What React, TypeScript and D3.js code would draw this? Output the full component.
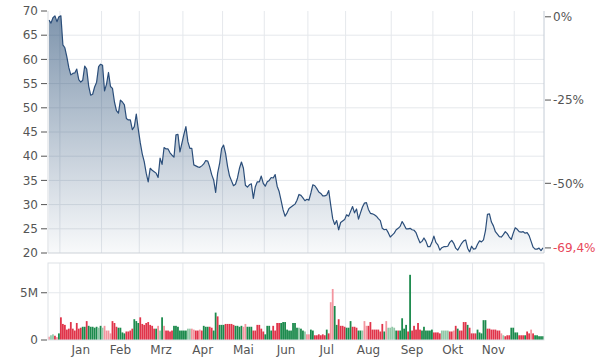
import React from "react";
import * as d3 from "d3";

// ---- data ----
const prices: number[] = [
  68.1, 67.5, 68.6, 69.0, 67.8, 68.8, 69.0, 63.0, 62.4, 60.5,
  58.3, 56.8, 57.1, 57.2, 58.0, 55.8, 55.3, 55.7, 58.6, 58.0,
  54.5, 52.6, 52.8, 54.3, 55.3, 58.5, 59.0, 58.8, 53.5, 54.9,
  57.3, 54.4, 54.0, 51.2, 49.4, 48.9, 51.6, 51.2, 50.6, 47.8,
  47.5, 47.5, 45.5, 46.1, 48.7, 45.6, 42.8, 40.5, 38.9, 36.5,
  34.7, 37.5, 37.1, 36.8, 36.5, 35.6, 39.6, 38.3, 41.8, 41.5,
  41.5, 40.7, 40.2, 39.8, 44.4, 44.5, 40.9, 42.7, 44.5, 46.1,
  43.0, 41.6, 41.6, 38.2, 38.0, 37.8, 37.7, 38.0, 38.4, 39.1,
  39.0, 37.8, 36.2, 35.1, 32.5, 36.5, 38.5, 41.6, 42.3, 40.6,
  37.9, 35.9, 34.9, 33.9, 34.2, 35.5, 37.5, 38.8, 37.5, 34.0,
  33.6, 34.1, 34.3, 31.3, 33.7, 34.7, 34.7, 35.9, 34.4, 33.8,
  34.7, 35.0, 35.6, 35.5, 36.2, 33.8, 32.7, 30.8, 28.9, 27.6,
  28.3, 29.2, 29.5, 29.8, 30.1, 30.9, 32.1, 31.9, 31.4, 30.8,
  31.1, 30.9, 32.4, 34.1, 33.9, 33.3, 32.6, 32.3, 31.8, 31.8,
  32.0, 32.9, 29.9, 27.1, 25.9, 26.7, 24.8, 26.3, 26.6, 26.9,
  27.9, 27.6, 28.6, 29.6, 28.3, 29.1, 27.0, 28.3, 29.5, 30.3,
  30.4, 29.0, 28.2, 28.1, 27.9, 27.6, 27.1, 26.7, 25.1, 24.8,
  24.9, 24.2, 23.3, 23.7, 24.1, 24.8, 25.1, 25.5, 26.5, 25.8,
  25.0, 25.0, 25.1, 24.8, 24.7, 24.2, 23.1, 22.1, 22.4, 23.1,
  22.4, 21.3, 21.3, 22.2, 23.5, 22.2, 21.7, 20.6, 21.1, 21.3,
  21.3, 21.4, 22.2, 22.6, 22.0, 21.0, 20.6, 21.3, 22.0, 22.5,
  22.7, 21.0, 20.2, 21.4, 20.8, 20.9, 21.8, 22.5, 22.3, 22.7,
  24.6, 28.0, 28.1, 26.4, 25.6, 24.4, 23.9, 23.4, 23.3, 23.8,
  24.4, 24.0, 23.3, 22.8, 24.1, 25.2, 24.9, 24.4, 24.3, 24.4,
  24.1, 24.2, 23.6, 22.4, 21.2, 20.8, 20.8, 21.0, 20.5, 21.05,
];

// volume in millions
const volumes: number[] = [
  0.35, 0.5, 0.6, 0.45, 0.3, 0.7, 2.4, 1.7, 1.6, 1.1,
  1.2, 1.9, 1.2, 1.0, 1.8, 1.2, 1.3, 1.4, 1.4, 2.0,
  1.5, 1.4, 1.4, 1.3, 1.4, 1.3, 1.5, 1.3, 1.5, 1.0,
  1.0, 0.7, 2.0, 1.8, 1.4, 1.3, 1.3, 0.8, 0.7, 0.9,
  0.9, 1.0, 1.2, 2.2, 2.0, 1.8, 2.4, 1.7, 1.6, 1.8,
  1.9, 1.6, 1.5, 1.2, 1.2, 1.5, 1.0, 2.4, 1.5, 1.0,
  1.0, 0.9, 1.0, 1.5, 1.5, 1.4, 1.0, 1.0, 1.0, 1.0,
  1.2, 1.2, 1.2, 1.1, 1.0, 1.0, 1.1, 1.0, 1.5, 1.4,
  1.4, 1.4, 1.3, 1.0, 2.9, 2.5, 1.6, 1.6, 1.6, 1.7,
  1.7, 1.7, 1.7, 1.6, 1.5, 1.5, 1.4, 1.5, 1.4, 1.7,
  1.4, 1.4, 1.4, 1.0, 1.0, 1.6, 1.6, 1.2, 0.9, 0.6,
  1.5, 1.5, 1.0, 1.5, 1.0, 1.8, 1.8, 1.8, 1.9, 1.9,
  1.1, 1.0, 1.0, 1.8, 1.8, 1.3, 1.3, 1.2, 1.0, 0.9,
  0.6, 0.6, 1.1, 1.0, 0.5, 0.5, 0.6, 0.5, 0.6, 0.5,
  1.1, 0.7, 4.0, 5.4, 3.6, 1.6, 2.2, 1.5, 1.5, 1.4,
  1.3, 1.3, 2.0, 1.4, 1.4, 1.3, 1.0, 1.0, 1.0, 2.0,
  1.5, 1.5, 1.9, 1.1, 1.1, 1.1, 1.1, 0.9, 1.7, 0.9,
  2.0, 1.3, 1.3, 1.4, 1.3, 1.0, 1.0, 1.0, 2.3, 1.2,
  1.6, 0.9, 6.9, 1.0, 1.5, 1.1, 1.8, 1.1, 1.0, 1.4,
  1.0, 1.0, 1.0, 1.1, 0.8, 0.8, 0.8, 0.7, 1.0, 1.0,
  1.0, 1.0, 0.9, 0.9, 1.0, 1.5, 1.2, 1.0, 1.0, 1.9,
  1.9, 1.6, 1.3, 0.7, 0.7, 0.7, 1.1, 0.8, 0.7, 2.1,
  2.1, 1.2, 1.2, 1.1, 1.1, 1.1, 1.0, 1.0, 0.7, 0.5,
  0.4, 0.5, 0.5, 1.3, 1.3, 0.8, 0.8, 0.5, 0.5, 0.5,
  0.5, 0.9, 0.7, 1.1, 0.7, 0.5, 0.5, 0.4, 0.4, 0.4,
];

// G = up, R = down, g / r = faded up / down
const volTone: string[] = (
  "rggRrGRRRR" + "RRRRRRRGGR" + "GGGGGgGgrr" + "rrRRRGGGGR" +
  "RRRGGGRRRR" + "RRRRGrgGrR" + "RRRGGGGGGG" + "ggrrRRrRGG" +
  "GRRGGRGGGR" + "RRRRGGGGrr" + "GGGRRRRRRG" + "GGGRRRRGGG" +
  "GGGGGGgGGg" + "rrGGRRRRRR" + "GRrrGGRRRR" + "GGGRRRGGgr" +
  "rRRRRRRRRG" + "rggggGRGGG" + "GRGRRRRRGG" + "GGGGRRRRgg" +
  "ggRRrRGRRR" + "RGRRRRGGGG" + "GRRRRRRRrg" + "RRRGGGGRRR" +
  "GRRrRGGGGG"
).split("");

const monthStarts: number[] = [6, 27, 46, 68, 88, 109, 131, 150, 173, 194, 214, 235];
const monthLabels: string[] = ["Jan", "Feb", "Mrz", "Apr", "Mai", "Jun", "Jul", "Aug", "Sep", "Okt", "Nov"];
const priceTicks: number[] = [20, 25, 30, 35, 40, 45, 50, 55, 60, 65, 70];
const pctTicks: number[] = [0, -25, -50];
const volTicks: number[] = [0, 5];
const volTickLabels: string[] = ["0", "5M"];
const basePrice = 68.8;

const toneColor: Record<string, string> = {
  G: "#1b8a4c",
  R: "#e0344a",
  g: "#92c8a8",
  r: "#f3959f",
};

export default function App() {
  const W = 608;
  const H = 364;
  const left = 48;
  const right = 544;
  const pTop = 11;
  const pBot = 253;
  const vTop = 263;
  const vBot = 340;
  const N = prices.length;

  const x = d3.scaleLinear().domain([0, N]).range([left, right]);
  const step = (right - left) / N;
  const y = d3.scaleLinear().domain([20, 70]).range([pBot, pTop]);
  const yv = d3.scaleLinear().domain([0, 8.15]).range([vBot, vTop]);

  const area = d3
    .area<number>()
    .x((_, i) => x(i + 0.5))
    .y0(pBot)
    .y1((d) => y(d));
  const line = d3
    .line<number>()
    .x((_, i) => x(i + 0.5))
    .y((d) => y(d));

  const last = prices[N - 1];
  const lastPct = (last / basePrice - 1) * 100;
  const fmtPct = (v: number) => (v === 0 ? "0%" : `${v}%`);
  const lastLabel = lastPct.toFixed(1).replace(".", ",") + "%";

  const textColor = "#555";
  const gridColor = "#e5e8ec";
  const font = "DejaVu Sans, Verdana, sans-serif";

  return (
    <svg
      width={W}
      height={H}
      style={{ position: "absolute", left: 0, top: 0, background: "#fff" }}
      fontFamily={font}
      fontSize={12}
    >
      <defs>
        <linearGradient id="pg" gradientUnits="userSpaceOnUse" x1={0} y1={pTop} x2={0} y2={pBot}>
          <stop offset="0" stopColor="#1f4670" stopOpacity={0.58} />
          <stop offset="1" stopColor="#1f4670" stopOpacity={0.03} />
        </linearGradient>
      </defs>

      {/* price grid */}
      {priceTicks.slice(1, -1).map((t) => (
        <line key={"hg" + t} x1={left} x2={right} y1={y(t)} y2={y(t)} stroke={gridColor} strokeWidth={1} />
      ))}
      {monthStarts.map((m) => (
        <line key={"vg" + m} x1={x(m)} x2={x(m)} y1={pTop} y2={pBot} stroke={gridColor} strokeWidth={1} />
      ))}

      {/* area + line */}
      <path d={area(prices) || ""} fill="url(#pg)" />
      <path d={line(prices) || ""} fill="none" stroke="#2b4e7a" strokeWidth={1.2} strokeLinejoin="round" />

      {/* price frame */}
      <line x1={left} x2={left} y1={pTop} y2={pBot} stroke="#d8dce1" />
      <line x1={left} x2={right} y1={pBot} y2={pBot} stroke="#cdd2d8" />
      <line x1={right} x2={right} y1={pTop} y2={pBot} stroke="#c4ccd6" />

      {/* left price axis */}
      {priceTicks.map((t) => (
        <g key={"pt" + t}>
          <line x1={41} x2={47} y1={y(t)} y2={y(t)} stroke="#555" />
          <text x={38} y={y(t)} dy="0.35em" textAnchor="end" fill={textColor}>
            {t}
          </text>
        </g>
      ))}

      {/* right percent axis */}
      {pctTicks.map((p) => {
        const yy = y(basePrice * (1 + p / 100));
        return (
          <g key={"pc" + p}>
            <line x1={545} x2={551} y1={yy} y2={yy} stroke="#555" />
            <text x={553} y={yy} dy="0.35em" fill={textColor}>
              {fmtPct(p)}
            </text>
          </g>
        );
      })}
      <line x1={545} x2={551} y1={y(last)} y2={y(last)} stroke="#555" />
      <text x={553} y={y(last)} dy="0.35em" fill="#e8475a">
        {lastLabel}
      </text>

      {/* volume panel */}
      <line x1={left} x2={right} y1={yv(5)} y2={yv(5)} stroke={gridColor} />
      {monthStarts.map((m) => (
        <line key={"vv" + m} x1={x(m)} x2={x(m)} y1={vTop} y2={vBot} stroke={gridColor} />
      ))}
      {volumes.map((v, i) => (
        <rect
          key={"vb" + i}
          x={x(i) + step * 0.05}
          width={step * 0.9}
          y={yv(v)}
          height={vBot - yv(v)}
          fill={toneColor[volTone[i]]}
        />
      ))}
      <rect x={left} y={vTop} width={right - left} height={vBot - vTop} fill="none" stroke="#dde1e6" />
      {volTicks.map((t, k) => (
        <g key={"vt" + t}>
          <line x1={41} x2={47} y1={yv(t)} y2={yv(t)} stroke="#555" />
          <text x={38} y={yv(t)} dy="0.35em" textAnchor="end" fill={textColor}>
            {volTickLabels[k]}
          </text>
        </g>
      ))}

      {/* month labels */}
      {monthLabels.map((lab, k) => (
        <text
          key={lab}
          x={(x(monthStarts[k]) + x(monthStarts[k + 1])) / 2}
          y={354}
          textAnchor="middle"
          fill={textColor}
        >
          {lab}
        </text>
      ))}
    </svg>
  );
}
